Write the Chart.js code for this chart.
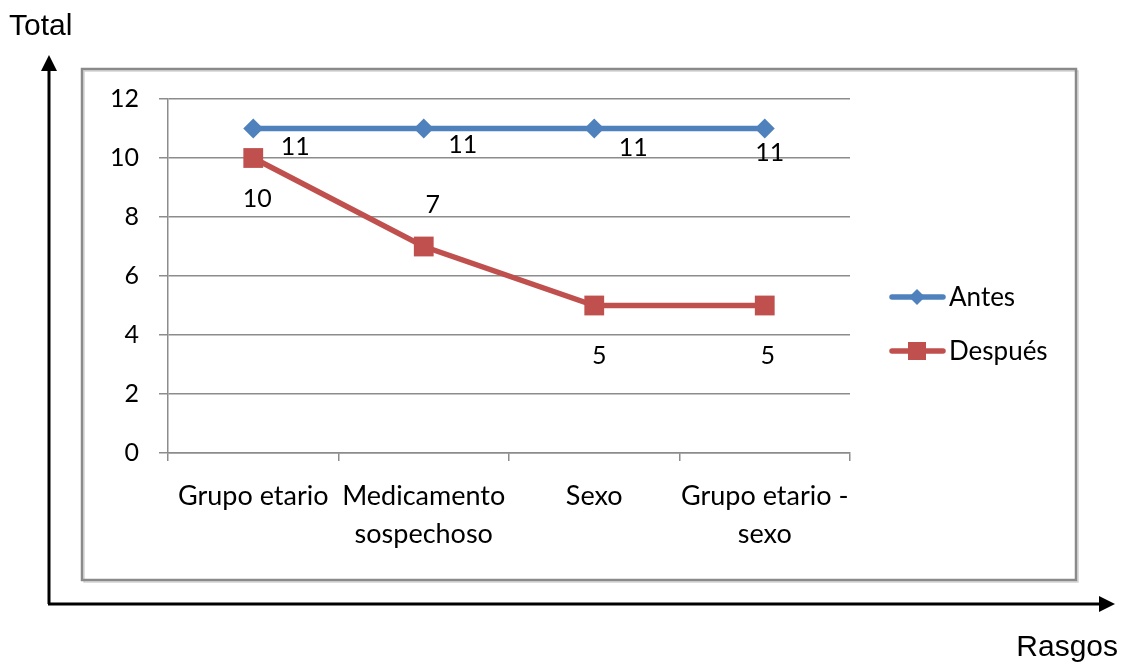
<!DOCTYPE html>
<html>
<head>
<meta charset="utf-8">
<script src="https://cdn.jsdelivr.net/npm/chart.js@4/dist/chart.umd.min.js"></script>
<style>
  html, body { margin: 0; padding: 0; background: #fff; }
  #wrap { width: 1122px; height: 663px; position: relative; }
</style>
</head>
<body>
<div id="wrap"><canvas id="rasgosChart" width="1122" height="663"></canvas></div>
<script>
const CATEGORIES = [['Grupo etario'], ['Medicamento', 'sospechoso'], ['Sexo'], ['Grupo etario -', 'sexo']];
const ANTES = [11, 11, 11, 11];
const DESPUES = [10, 7, 5, 5];
const Y_TICKS = [0, 2, 4, 6, 8, 10, 12];

const BLUE = '#4F81BD';
const RED = '#C0504D';
const GRID = '#8c8c8c';
const FONT = 'Lato, "Open Sans", sans-serif';

// label offsets from each point, per dataset
const LABEL_OFFSETS = [
  [[42, 18], [39, 16], [39, 19], [5, 24]],
  [[4, 41], [9, -42], [5, 50], [3, 50]]
];

const decorations = {
  id: 'decorations',
  beforeDraw(chart) {
    const ctx = chart.ctx;
    ctx.save();
    // chart frame with a soft shadow
    ctx.strokeStyle = '#d4d4d4';
    ctx.lineWidth = 1.5;
    ctx.strokeRect(84, 71, 994, 511);
    ctx.strokeStyle = '#8a8a8a';
    ctx.lineWidth = 2.5;
    ctx.strokeRect(82, 69, 994, 511);

    // axis arrows
    ctx.strokeStyle = '#000';
    ctx.fillStyle = '#000';
    ctx.lineWidth = 3;
    ctx.beginPath();
    ctx.moveTo(49, 604);
    ctx.lineTo(49, 66);
    ctx.moveTo(48, 604);
    ctx.lineTo(1102, 604);
    ctx.stroke();
    ctx.beginPath();
    ctx.moveTo(49, 55);
    ctx.lineTo(41, 71);
    ctx.lineTo(57, 71);
    ctx.closePath();
    ctx.fill();
    ctx.beginPath();
    ctx.moveTo(1115, 604);
    ctx.lineTo(1099, 596);
    ctx.lineTo(1099, 612);
    ctx.closePath();
    ctx.fill();

    ctx.font = '30px "Liberation Sans", Arial, sans-serif';
    ctx.textBaseline = 'middle';
    ctx.textAlign = 'left';
    ctx.fillText('Total', 9, 27);
    ctx.textAlign = 'right';
    ctx.fillText('Rasgos', 1118, 648);
    ctx.restore();
  },
  afterDatasetsDraw(chart) {
    const ctx = chart.ctx;
    ctx.save();
    ctx.font = '25px ' + FONT;
    ctx.fillStyle = '#000';
    ctx.textAlign = 'center';
    ctx.textBaseline = 'middle';
    chart.data.datasets.forEach((ds, di) => {
      chart.getDatasetMeta(di).data.forEach((pt, i) => {
        const off = LABEL_OFFSETS[di][i];
        ctx.fillText(String(ds.data[i]), pt.x + off[0], pt.y + off[1]);
      });
    });

    // legend
    ctx.font = '26px ' + FONT;
    const items = [
      { ds: chart.data.datasets[0], y: 297 },
      { ds: chart.data.datasets[1], y: 351 }
    ];
    items.forEach(({ ds, y }) => {
      ctx.strokeStyle = ds.borderColor;
      ctx.lineWidth = 5.5;
      ctx.lineCap = 'round';
      ctx.beginPath();
      ctx.moveTo(892, y);
      ctx.lineTo(943, y);
      ctx.stroke();
      ctx.fillStyle = ds.backgroundColor;
      if (ds.pointStyle === 'rectRot') {
        ctx.beginPath();
        ctx.moveTo(917, y - 8);
        ctx.lineTo(925, y);
        ctx.lineTo(917, y + 8);
        ctx.lineTo(909, y);
        ctx.closePath();
        ctx.fill();
      } else {
        ctx.fillRect(908, y - 9, 18, 18);
      }
      ctx.fillStyle = '#000';
      ctx.textAlign = 'left';
      ctx.fillText(ds.label, 949, y + 1);
    });
    ctx.restore();
  }
};

new Chart(document.getElementById('rasgosChart'), {
  type: 'line',
  data: {
    labels: CATEGORIES,
    datasets: [
      {
        label: 'Antes',
        data: ANTES,
        borderColor: BLUE,
        backgroundColor: BLUE,
        borderWidth: 5.5,
        pointStyle: 'rectRot',
        pointRadius: 10,
        pointBorderWidth: 0,
        tension: 0
      },
      {
        label: 'Después',
        data: DESPUES,
        borderColor: RED,
        backgroundColor: RED,
        borderWidth: 5.5,
        pointStyle: 'rect',
        pointRadius: 14,
        pointBorderWidth: 0,
        tension: 0
      }
    ]
  },
  options: {
    responsive: false,
    animation: false,
    events: [],
    layout: {
      padding: { left: 100, right: 272, top: 99, bottom: 110 }
    },
    plugins: {
      legend: { display: false },
      tooltip: { enabled: false }
    },
    scales: {
      x: {
        offset: true,
        afterFit: s => { s.height = 100; },
        grid: {
          offset: true,
          drawOnChartArea: false,
          color: GRID,
          lineWidth: 1.5,
          tickLength: 8
        },
        border: { color: GRID, width: 1.5 },
        ticks: {
          color: '#000',
          padding: 16,
          maxRotation: 0,
          autoSkip: false,
          font: { family: FONT, size: 27, lineHeight: 1.42 }
        }
      },
      y: {
        min: 0,
        max: 12,
        afterFit: s => { s.width = 68; },
        afterBuildTicks: s => { s.ticks = Y_TICKS.map(v => ({ value: v })); },
        grid: {
          color: GRID,
          lineWidth: 1.5,
          tickLength: 9
        },
        border: { color: GRID, width: 1.5 },
        ticks: {
          color: '#000',
          padding: 20,
          font: { family: FONT, size: 25 }
        }
      }
    }
  },
  plugins: [decorations]
});
</script>
</body>
</html>
